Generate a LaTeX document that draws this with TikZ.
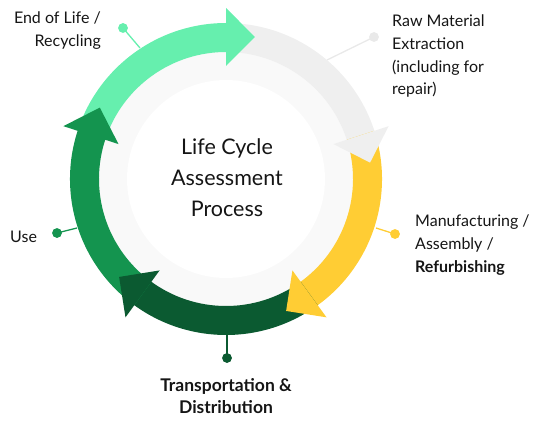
\documentclass[tikz,border=0pt]{standalone}
\usepackage{fontspec}
\setmainfont{Lato}
\usetikzlibrary{calc}
\definecolor{cLight}{HTML}{66EFAE}
\definecolor{cGray}{HTML}{EFEFEF}
\definecolor{cYellow}{HTML}{FFCD34}
\definecolor{cDark}{HTML}{0B5A31}
\definecolor{cMed}{HTML}{14944F}
\definecolor{cRing}{HTML}{F9F9F9}
\definecolor{cDotGray}{HTML}{E9E9E9}
\definecolor{cText}{HTML}{151515}
\tikzset{
  lbl/.style={inner sep=0pt, font=\fontsize{16}{23}\selectfont, text=cText},
  ctr/.style={inner sep=0pt, font=\fontsize{21.5}{31}\selectfont, text=cText, align=center},
  dotmark/.style={circle, inner sep=0pt, minimum size=9.5pt},
  lead/.style={line width=1.3pt},
}
\newcommand{\bandseg}[3]{% start, end, colour
  \fill[#3] (#1:156) arc[start angle=#1, end angle=#2, radius=156]
     -- (#2:127) arc[start angle=#2, end angle=#1, radius=127] -- cycle;}
\newcommand{\headtri}[2]{% base angle, colour
  \fill[#2] (#1:113) -- ({#1-11.5}:145) -- (#1:171) -- cycle;}
\begin{document}
\begin{tikzpicture}[x=1pt,y=1pt]
\useasboundingbox (0,0) rectangle (554,424);
% leader lines first
\node[dotmark, fill=cLight] (dEoL) at (123,396) {};
\node[dotmark, fill=cDotGray] (dRaw) at (374,387) {};
\node[dotmark, fill=cYellow] (dMan) at (395,190) {};
\node[dotmark, fill=cDark] (dTra) at (227,66) {};
\node[dotmark, fill=cMed] (dUse) at (57,191) {};
\coordinate (aEoL) at (140,376);
\coordinate (aRaw) at (327,364);
\coordinate (aMan) at (376,196);
\coordinate (aTra) at (227,90);
\coordinate (aUse) at (77,196);
\draw[lead, cLight] (dEoL.center) -- (aEoL);
\draw[lead, cDotGray] (dRaw.center) -- (aRaw);
\draw[lead, cYellow] (dMan.center) -- (aMan);
\draw[lead, cDark] (dTra.center) -- (aTra);
\draw[lead, cMed] (dUse.center) -- (aUse);
\begin{scope}[shift={(226,245)}]
  \fill[cRing] (0,0) circle (128);
  \fill[white] (0,0) circle (99);
  \bandseg{162}{89}{cLight}
  \bandseg{90}{17}{cGray}
  \bandseg{18}{-55}{cYellow}
  \bandseg{-54}{-127}{cDark}
  \bandseg{234}{161}{cMed}
  \headtri{90}{cLight}
  \headtri{18}{cGray}
  \headtri{-54}{cYellow}
  \headtri{-126}{cDark}
  \headtri{162}{cMed}
\end{scope}
% redraw dots on top
\node[dotmark, fill=cLight] at (dEoL) {};
\node[dotmark, fill=cDotGray] at (dRaw) {};
\node[dotmark, fill=cYellow] at (dMan) {};
\node[dotmark, fill=cDark] at (dTra) {};
\node[dotmark, fill=cMed] at (dUse) {};
% labels (base anchor = baseline of last line)
\node[ctr, anchor=base] (center) at (227,208) {Life Cycle\\Assessment\\Process};
\node[lbl, align=right, anchor=base east] (tEoL) at (101,377) {End of Life /\\Recycling};
\node[lbl, align=left, anchor=base west] (tRaw) at (392,329) {Raw Material\\Extraction\\(including for\\repair)};
\node[lbl, align=left, anchor=base west] (tMan) at (415,152) {Manufacturing /\\Assembly /\\\textbf{Refurbishing}};
\node[lbl, align=center, anchor=base, font=\fontsize{17.5}{21.5}\selectfont\bfseries] (tTra) at (226,11) {Transportation \&\\Distribution};
\node[lbl, anchor=base west] (tUse) at (10,182) {Use};
\end{tikzpicture}
\end{document}
